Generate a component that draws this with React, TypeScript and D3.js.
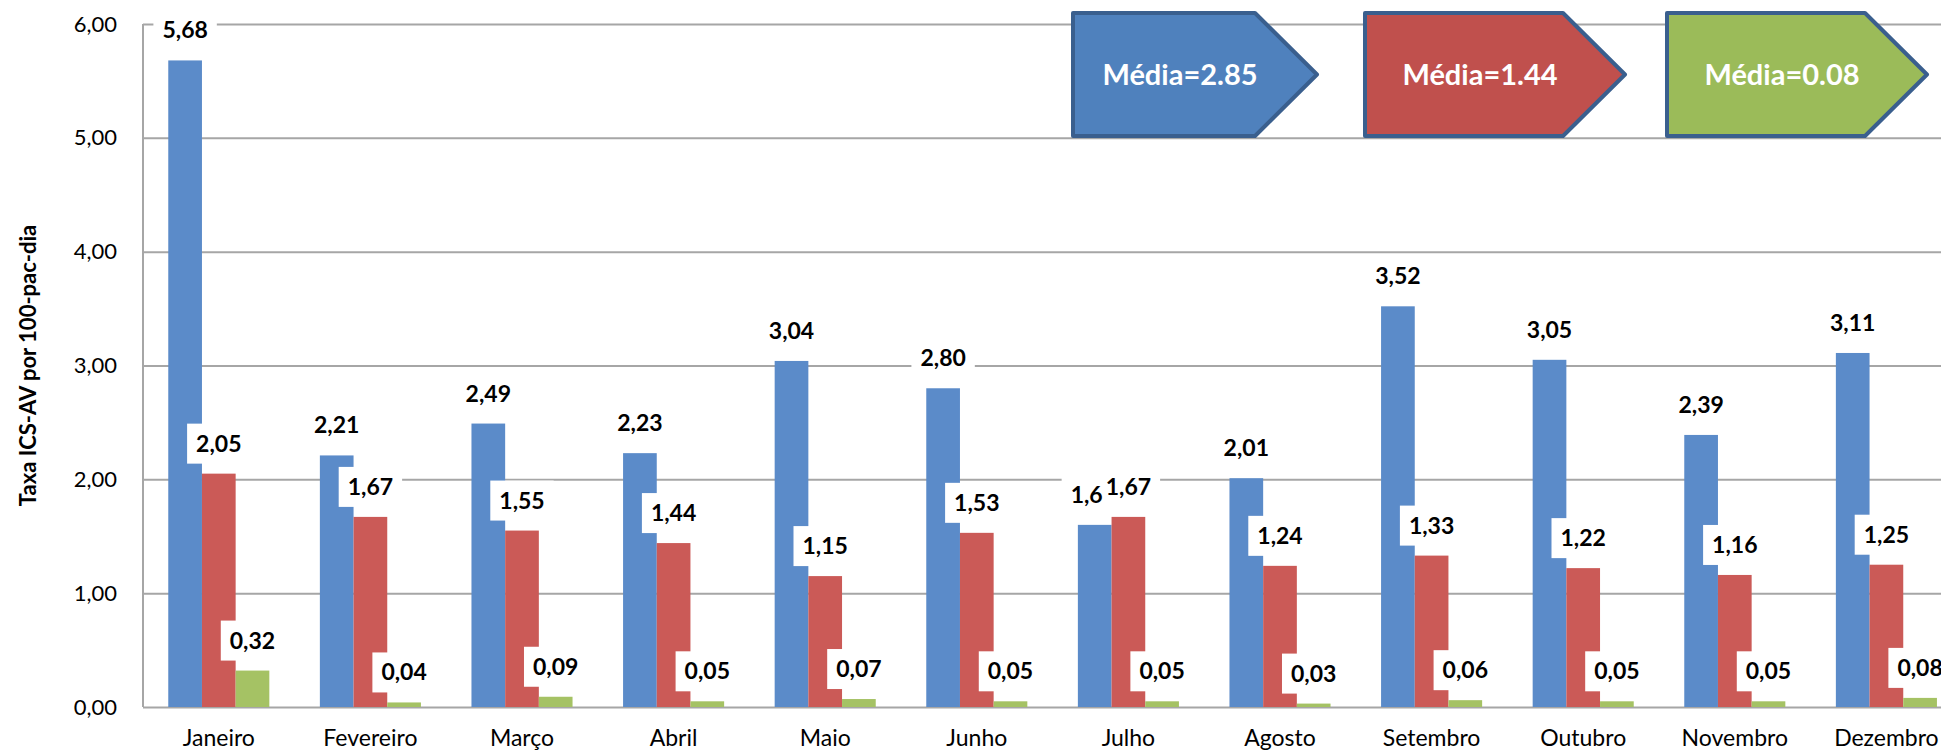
import { useEffect, useRef } from "react";
import * as d3 from "d3";

const width = 1941;
const height = 751;
const margin = { top: 24, bottom: 44, left: 143 };
const step = 151.6;

const months = [
  "Janeiro", "Fevereiro", "Março", "Abril", "Maio", "Junho",
  "Julho", "Agosto", "Setembro", "Outubro", "Novembro", "Dezembro",
];
const blueValues = [5.68, 2.21, 2.49, 2.23, 3.04, 2.8, 1.6, 2.01, 3.52, 3.05, 2.39, 3.11];
const redValues = [2.05, 1.67, 1.55, 1.44, 1.15, 1.53, 1.67, 1.24, 1.33, 1.22, 1.16, 1.25];
const greenValues = [0.32, 0.04, 0.09, 0.05, 0.07, 0.05, 0.05, 0.03, 0.06, 0.05, 0.05, 0.08];
const meanLabels = ["Média=2.85", "Média=1.44", "Média=0.08"];
const yTicks = [0, 1, 2, 3, 4, 5, 6];
const yTitle = "Taxa ICS-AV por 100-pac-dia";
// Excel showed this one without the trailing zero
const labelOverrides: Record<string, string> = { "0-6": "1,6" };

const barColors = ["#5B8BC9", "#CB5A57", "#A5C264"];
const boxFills = ["#4F81BD", "#C0504D", "#9BBB59"];
const font = "Lato, 'Open Sans', sans-serif";

const fmt = (v: number) => v.toFixed(2).replace(".", ",");

const App = () => {
  const svgRef = useRef<SVGSVGElement>(null);

  useEffect(() => {
    const svg = d3.select(svgRef.current);
    svg.selectAll("*").remove();

    const series = [blueValues, redValues, greenValues];
    const x = d3
      .scaleBand<string>()
      .domain(months)
      .range([margin.left, margin.left + step * months.length])
      .paddingInner(1 / 3)
      .paddingOuter(1 / 6);
    const xs = d3.scaleBand<number>().domain([0, 1, 2]).range([0, x.bandwidth()]);
    const y = d3
      .scaleLinear()
      .domain([0, 6])
      .range([height - margin.bottom, margin.top]);

    // gridlines + tick labels
    const yAxis = svg
      .append("g")
      .attr("transform", `translate(${margin.left},0)`)
      .call(
        d3
          .axisLeft(y)
          .tickValues(yTicks)
          .tickSize(-(width - margin.left))
          .tickPadding(26)
          .tickFormat((d) => fmt(d as number))
      );
    yAxis.select(".domain").remove();
    yAxis.selectAll(".tick line").attr("stroke", "#A6A6A6").attr("stroke-width", 2);
    yAxis
      .selectAll(".tick text")
      .attr("font-family", font)
      .attr("font-size", 22)
      .attr("fill", "#000");

    svg
      .append("line")
      .attr("x1", margin.left)
      .attr("x2", margin.left)
      .attr("y1", y(6))
      .attr("y2", y(0))
      .attr("stroke", "#A6A6A6")
      .attr("stroke-width", 2);

    // bars
    series.forEach((vals, s) => {
      svg
        .append("g")
        .selectAll("rect")
        .data(vals)
        .join("rect")
        .attr("x", (_, i) => x(months[i])! + xs(s)!)
        .attr("y", (d) => y(d))
        .attr("width", xs.bandwidth())
        .attr("height", (d) => y(0) - y(d))
        .attr("fill", barColors[s]);
    });

    // data labels: white boxes first, then text
    const boxG = svg.append("g");
    const textG = svg.append("g");
    const labels = series.map((vals, s) =>
      vals.map((v, i) => {
        const cx = x(months[i])! + xs(s)! + xs.bandwidth() / 2;
        const cy = y(v) - 30;
        const t = textG
          .append("text")
          .attr("x", cx)
          .attr("y", cy)
          .attr("dy", "0.35em")
          .attr("text-anchor", "middle")
          .attr("font-family", font)
          .attr("font-weight", "bold")
          .attr("font-size", 23)
          .text(labelOverrides[`${s}-${i}`] ?? fmt(v));
        const w = (t.node() as SVGTextElement).getComputedTextLength();
        return { t, cx, cy, w };
      })
    );
    // nudge a blue label left when it runs into the red one next to it
    months.forEach((_, i) => {
      const a = labels[0][i];
      const b = labels[1][i];
      const overlap = a.cx + a.w / 2 + 3 - (b.cx - b.w / 2);
      if (overlap > 0 && Math.abs(a.cy - b.cy) < 30) {
        a.cx -= overlap;
        a.t.attr("x", a.cx);
      }
    });
    labels.flat().forEach((l) => {
      boxG
        .append("rect")
        .attr("x", l.cx - l.w / 2 - 9)
        .attr("y", l.cy - 20)
        .attr("width", l.w + 18)
        .attr("height", 40)
        .attr("fill", "#fff");
    });

    // month labels
    svg
      .append("g")
      .selectAll("text")
      .data(months)
      .join("text")
      .attr("x", (d) => x(d)! + x.bandwidth() / 2)
      .attr("y", 746)
      .attr("text-anchor", "middle")
      .attr("font-family", font)
      .attr("font-size", 23)
      .text((d) => d);

    // y title
    svg
      .append("text")
      .attr("transform", `translate(28,${(y(0) + y(6)) / 2}) rotate(-90)`)
      .attr("dy", "0.35em")
      .attr("text-anchor", "middle")
      .attr("font-family", font)
      .attr("font-weight", "bold")
      .attr("font-size", 22)
      .text(yTitle);

    // mean arrows
    const boxLeft = [1073, 1365, 1667];
    const boxWidth = [244, 260, 260];
    const top = 13, bottom = 136, tip = 62;
    meanLabels.forEach((m, k) => {
      const x0 = boxLeft[k];
      const x1 = x0 + boxWidth[k];
      const path = d3.path();
      path.moveTo(x0, top);
      path.lineTo(x1 - tip, top);
      path.lineTo(x1, (top + bottom) / 2);
      path.lineTo(x1 - tip, bottom);
      path.lineTo(x0, bottom);
      path.closePath();
      svg
        .append("path")
        .attr("d", path.toString())
        .attr("fill", boxFills[k])
        .attr("stroke", "#3A5F8E")
        .attr("stroke-width", 4)
        .attr("stroke-linejoin", "round");
      svg
        .append("text")
        .attr("x", (x0 + x1) / 2 - 15)
        .attr("y", (top + bottom) / 2)
        .attr("dy", "0.35em")
        .attr("text-anchor", "middle")
        .attr("font-family", font)
        .attr("font-weight", "bold")
        .attr("font-size", 29)
        .attr("fill", "#fff")
        .text(m);
    });
  }, []);

  return (
    <svg
      ref={svgRef}
      width={width}
      height={height}
      style={{ position: "absolute", left: 0, top: 0, background: "#fff" }}
    />
  );
};

export default App;
